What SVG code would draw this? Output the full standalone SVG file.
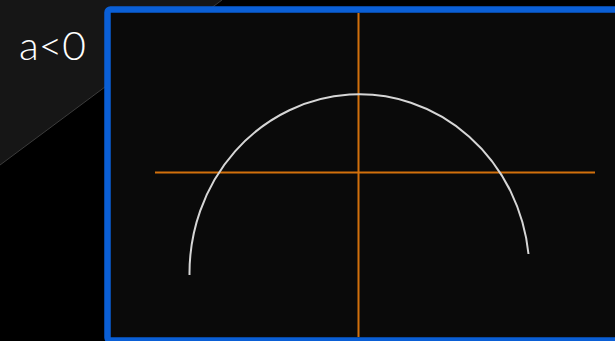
<svg xmlns="http://www.w3.org/2000/svg" width="615" height="341" viewBox="0 0 615 341">
  <style>
    .axis { stroke: #d2700c; stroke-width: 2; fill: none; }
    .curve { stroke: #d6d6d6; stroke-width: 2; fill: none; }
    .label { font-family: "Lato", "Open Sans", "Liberation Sans", sans-serif; font-weight: 300; font-size: 39px; fill: #ffffff; }
  </style>
  <rect x="0" y="0" width="615" height="341" fill="#000000"/>
  <polygon points="0,0 222,0 0,165" fill="#161616"/>
  <line x1="222" y1="0" x2="0" y2="165" stroke="#3c3c3c" stroke-width="1"/>
  <g id="label">
    <text class="label" x="19" y="60" textLength="67" lengthAdjust="spacingAndGlyphs">a&lt;0</text>
  </g>
  <g id="plot">
    <rect x="107.5" y="9.5" width="520" height="331" rx="3" fill="#0a0a0a" stroke="#0a5fd6" stroke-width="6.5"/>
  </g>
  <g id="axes">
    <line class="axis" x1="358.5" y1="13" x2="358.5" y2="337"/>
    <line class="axis" x1="155" y1="172.5" x2="595" y2="172.5"/>
  </g>
  <g id="curve">
    <path class="curve" d="M 189.5 275 A 170 179 0 0 1 528.5 254"/>
  </g>
</svg>
